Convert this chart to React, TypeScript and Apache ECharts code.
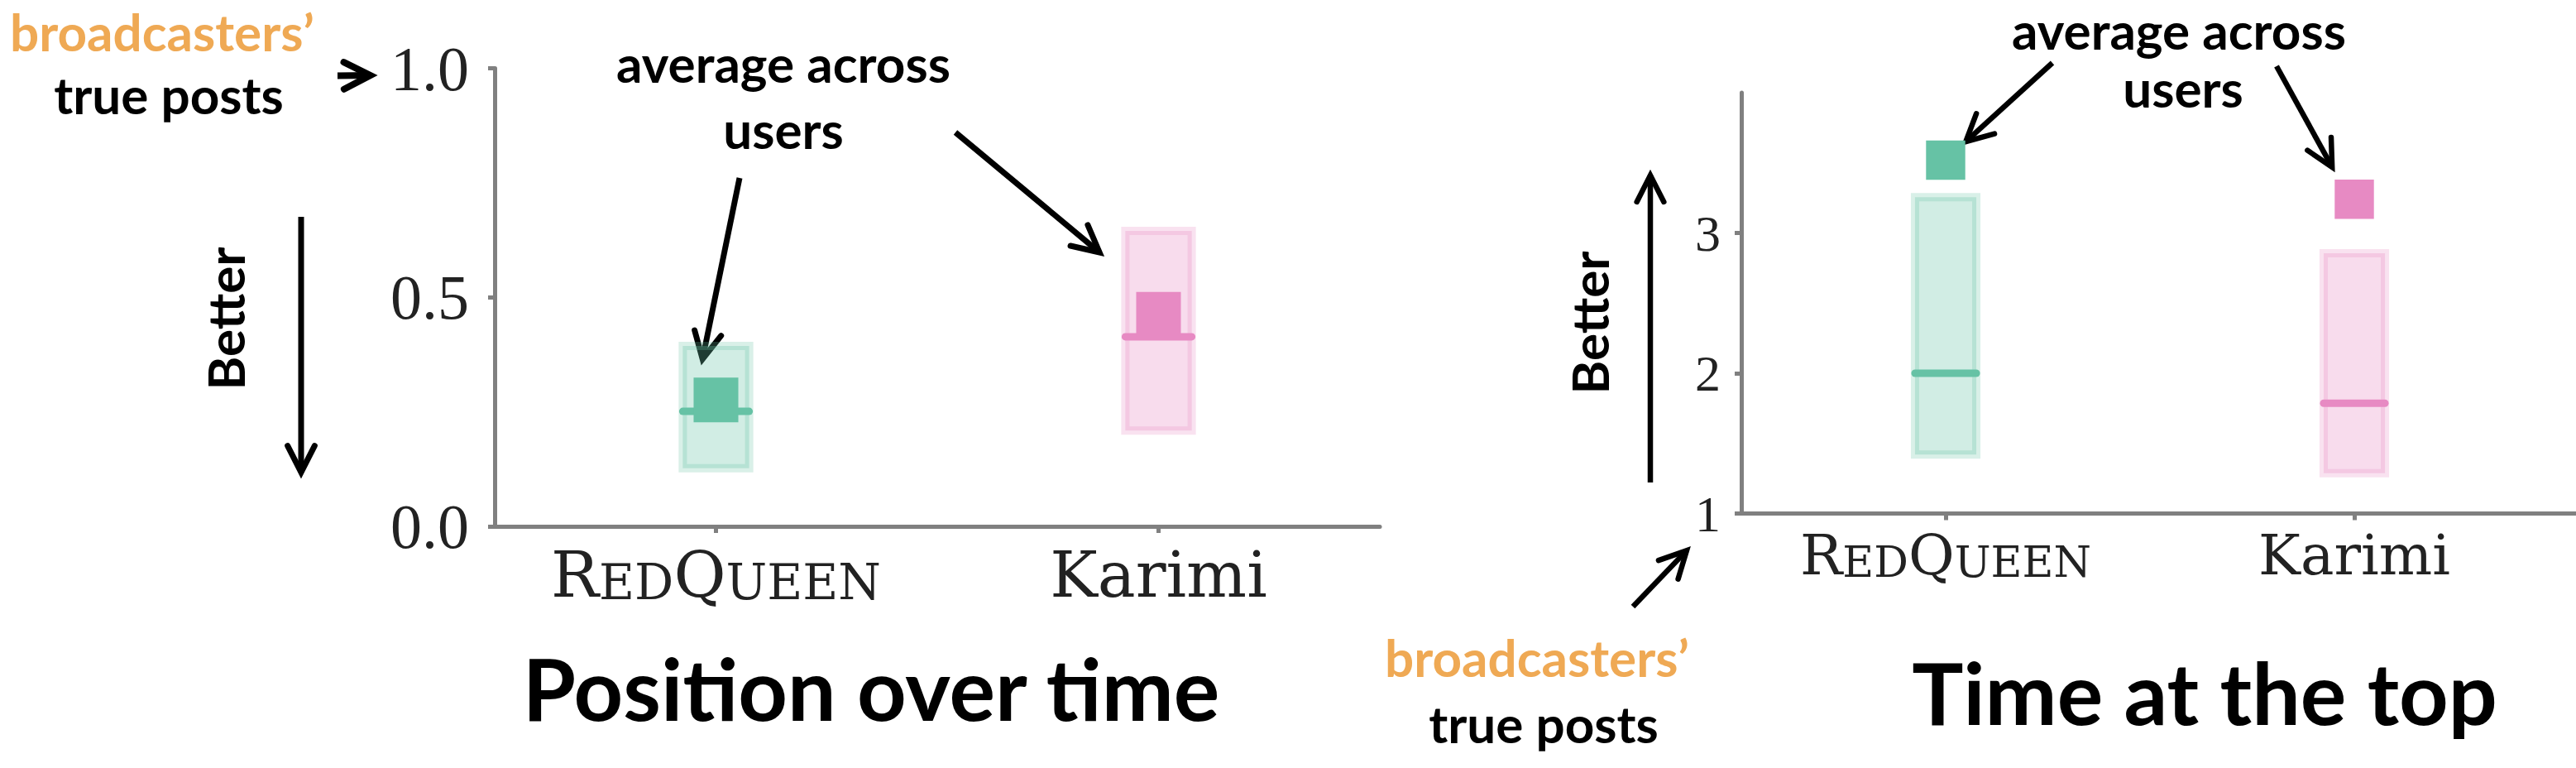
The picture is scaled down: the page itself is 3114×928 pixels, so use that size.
import React, { useEffect, useRef } from 'react';
import * as echarts from 'echarts';

// ---------- data ----------
const categories = ['RedQueen', 'Karimi'];
const seriesColors = ['#66c2a5', '#e78ac3'];

// Left panel: "Position over time"
const posQ1 = [0.127, 0.209];
const posQ3 = [0.394, 0.645];
const posMedian = [0.251, 0.414];
const posMean = [0.276, 0.463];
const posTicks = [0, 0.5, 1];

// Right panel: "Time at the top"
const topQ1 = [1.42, 1.288];
const topQ3 = [3.255, 2.855];
const topMedian = [2.0, 1.786];
const topMean = [3.519, 3.24];
const topTicks = [1, 2, 3];

const titles = ['Position over time', 'Time at the top'];

// ---------- helpers ----------
function rgba(hex: string, a: number) {
  const n = parseInt(hex.slice(1), 16);
  return `rgba(${(n >> 16) & 255},${(n >> 8) & 255},${n & 255},${a})`;
}

function makeBox(halfW: number) {
  return (params: any, api: any) => {
    const x = api.value(0);
    const q1 = api.value(1);
    const q3 = api.value(2);
    const med = api.value(3);
    const col = seriesColors[api.value(4)];
    const tl = api.coord([x - halfW, q3]);
    const br = api.coord([x + halfW, q1]);
    const ml = api.coord([x - halfW, med]);
    const mr = api.coord([x + halfW, med]);
    return {
      type: 'group',
      children: [
        {
          type: 'rect',
          shape: { x: tl[0], y: tl[1], width: br[0] - tl[0], height: br[1] - tl[1] },
          style: { fill: rgba(col, 0.3), stroke: rgba(col, 0.25), lineWidth: 10 },
        },
        {
          type: 'line',
          shape: { x1: ml[0], y1: ml[1], x2: mr[0], y2: mr[1] },
          style: { stroke: col, lineWidth: 9, lineCap: 'round' },
        },
      ],
    };
  };
}

function makeMean(halfW: number) {
  return (params: any, api: any) => {
    const x = api.value(0);
    const m = api.value(1);
    const l = api.coord([x - halfW, m]);
    const r = api.coord([x + halfW, m]);
    const w = r[0] - l[0];
    return {
      type: 'rect',
      shape: { x: l[0], y: l[1] - w / 2, width: w, height: w },
      style: { fill: seriesColors[api.value(2)] },
    };
  };
}

function arrow(x1: number, y1: number, x2: number, y2: number, lw = 7, head = 36, angDeg = 27) {
  const dx = x2 - x1;
  const dy = y2 - y1;
  const len = Math.sqrt(dx * dx + dy * dy);
  const ux = dx / len;
  const uy = dy / len;
  const a = (angDeg * Math.PI) / 180;
  const back = lw * 0.9;
  const tx = x2 - ux * back;
  const ty = y2 - uy * back;
  const rot = (vx: number, vy: number, t: number) => [vx * Math.cos(t) - vy * Math.sin(t), vx * Math.sin(t) + vy * Math.cos(t)];
  const [ax, ay] = rot(-ux, -uy, a);
  const [bx, by] = rot(-ux, -uy, -a);
  return {
    type: 'group',
    children: [
      {
        type: 'line',
        shape: { x1, y1, x2: tx, y2: ty },
        style: { stroke: '#000', lineWidth: lw, lineCap: 'butt' },
      },
      {
        type: 'polyline',
        shape: {
          points: [
            [tx + ax * head, ty + ay * head],
            [tx, ty],
            [tx + bx * head, ty + by * head],
          ],
        },
        style: { stroke: '#000', fill: null, lineWidth: lw, lineJoin: 'miter', lineCap: 'round' },
      },
    ],
  };
}

const ANN = 'Lato, "Open Sans", sans-serif';
function label(text: string, x: number, y: number, size: number, color = '#000', rotation = 0) {
  return {
    type: 'text',
    x,
    y,
    rotation,
    style: {
      text,
      fill: color,
      fontFamily: ANN,
      fontWeight: 'bold',
      fontSize: size,
      align: 'center',
      verticalAlign: 'middle',
    },
  };
}

const ORANGE = '#efa954';
const AXIS_GREY = '#808080';
const TICK_TEXT = '#222';
const ANN_SIZE = 62;
const TITLE_SIZE = 104;

function xAxisFor(grid: number, max: number, big: number, small: number, margin: number) {
  return {
    gridIndex: grid,
    type: 'value',
    min: -0.5,
    max,
    splitLine: { show: false },
    axisLine: { onZero: false, lineStyle: { color: AXIS_GREY, width: 5 } },
    axisTick: { customValues: [0, 1], length: 8, lineStyle: { color: AXIS_GREY, width: 5 } },
    axisLabel: {
      customValues: [0, 1],
      margin,
      formatter: (v: number) => (Math.round(v) === 0 ? '{b|R}{s|ED}{b|Q}{s|UEEN}' : '{b|' + categories[1] + '}'),
      rich: {
        b: { fontFamily: 'DejaVu Serif', fontSize: big, color: TICK_TEXT, verticalAlign: 'bottom' },
        s: { fontFamily: 'DejaVu Serif', fontSize: small, color: TICK_TEXT, verticalAlign: 'bottom' },
      },
    },
  };
}

export default function App() {
  const ref = useRef<HTMLDivElement>(null);
  useEffect(() => {
    if (!ref.current) return;
    const chart = echarts.init(ref.current, undefined, { renderer: 'svg' });
    const idx = categories.map((_, i) => i);
    const option: any = {
      animation: false,
      backgroundColor: '#ffffff',
      grid: [
        { left: 598, top: 82.6, width: 1070, height: 553.4, outerBoundsMode: 'none', containLabel: false },
        { left: 2105, top: 112, width: 1009, height: 508.5, outerBoundsMode: 'none', containLabel: false },
      ],
      xAxis: [xAxisFor(0, 1.5, 77, 59, 20), xAxisFor(1, 1.5425, 68, 52, 16)],
      yAxis: [
        {
          gridIndex: 0,
          type: 'value',
          min: 0,
          max: 1,
          interval: 0.5,
          splitLine: { show: false },
          axisLine: { onZero: false, lineStyle: { color: AXIS_GREY, width: 5 } },
          axisTick: { customValues: posTicks, length: 8, lineStyle: { color: AXIS_GREY, width: 5 } },
          axisLabel: {
            customValues: posTicks,
            margin: 31,
            formatter: (v: number) => v.toFixed(1),
            fontFamily: 'Liberation Serif',
            fontSize: 76,
            color: TICK_TEXT,
          },
        },
        {
          gridIndex: 1,
          type: 'value',
          min: 1,
          max: 4,
          interval: 1,
          splitLine: { show: false },
          axisLine: { onZero: false, lineStyle: { color: AXIS_GREY, width: 5 } },
          axisTick: { customValues: topTicks, length: 8, lineStyle: { color: AXIS_GREY, width: 5 } },
          axisLabel: {
            customValues: topTicks,
            margin: 25,
            formatter: (v: number) => String(v),
            fontFamily: 'Liberation Serif',
            fontSize: 62,
            color: TICK_TEXT,
          },
        },
      ],
      series: [
        {
          type: 'custom',
          xAxisIndex: 0,
          yAxisIndex: 0,
          renderItem: makeBox(0.075),
          data: idx.map((i) => [i, posQ1[i], posQ3[i], posMedian[i], i]),
          z: 2,
        },
        {
          type: 'custom',
          xAxisIndex: 0,
          yAxisIndex: 0,
          renderItem: makeMean(0.0505),
          data: idx.map((i) => [i, posMean[i], i]),
          z: 3,
        },
        {
          type: 'custom',
          xAxisIndex: 1,
          yAxisIndex: 1,
          renderItem: makeBox(0.075),
          data: idx.map((i) => [i, topQ1[i], topQ3[i], topMedian[i], i]),
          z: 2,
        },
        {
          type: 'custom',
          xAxisIndex: 1,
          yAxisIndex: 1,
          renderItem: makeMean(0.048),
          data: idx.map((i) => [i, topMean[i], i]),
          z: 3,
        },
      ],
      graphic: [
        // left panel annotations
        label('broadcasters\u2019', 196, 38, ANN_SIZE, ORANGE),
        label('true posts', 204, 114, ANN_SIZE),
        arrow(408, 91.5, 455, 91, 8),
        label('Better', 272, 385, ANN_SIZE, '#000', Math.PI / 2),
        arrow(364, 262, 364, 577, 7),
        label('average across', 947, 76, ANN_SIZE),
        label('users', 947, 156, ANN_SIZE),
        arrow(894, 215, 848, 440, 7),
        arrow(1155, 160, 1334, 309, 7),
        label(titles[0], 1053, 830, TITLE_SIZE),
        // right panel annotations
        label('average across', 2634, 36, ANN_SIZE),
        label('users', 2639, 106, ANN_SIZE),
        arrow(2481, 76, 2372, 175, 6.5),
        arrow(2752, 80, 2822, 207, 6.5),
        label('Better', 1921, 390, ANN_SIZE, '#000', Math.PI / 2),
        arrow(1995, 583, 1995, 206, 6.5),
        arrow(1974, 733, 2043, 661, 6.5),
        label('broadcasters\u2019', 1858, 794, ANN_SIZE, ORANGE),
        label('true posts', 1866, 874, ANN_SIZE),
        label(titles[1], 2665, 835, TITLE_SIZE),
      ],
    };
    chart.setOption(option);
    return () => chart.dispose();
  }, []);
  return <div ref={ref} style={{ position: 'fixed', left: 0, top: 0, width: 3114, height: 928, background: '#fff' }} />;
}
